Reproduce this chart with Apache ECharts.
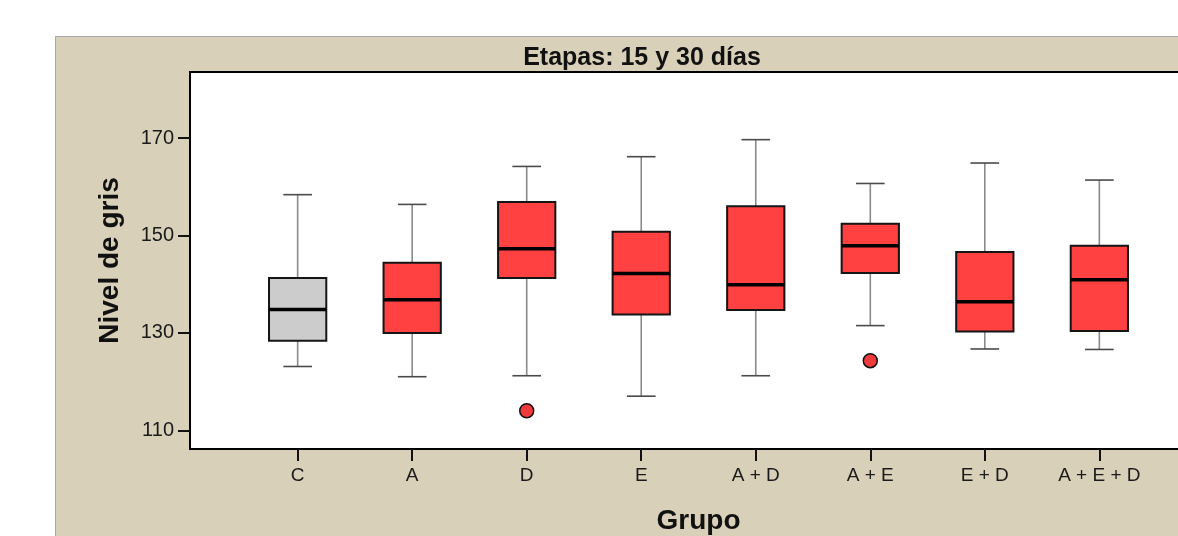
<!DOCTYPE html>
<html>
<head>
<meta charset="utf-8">
<script src="https://cdn.jsdelivr.net/npm/echarts@6/dist/echarts.min.js"></script>
<style>
  html, body { margin: 0; padding: 0; background: #ffffff; }
  #panel { position: absolute; left: 55px; top: 36px; width: 1200px; height: 600px;
           background: #d9d0b9; border-left: 1px solid #a9a9a9; border-top: 1px solid #a9a9a9; }
  #chart { position: absolute; left: 0; top: 0; width: 1178px; height: 536px; }
</style>
</head>
<body>
<div id="panel"></div>
<div id="chart"></div>
<script>
// ---- data ----
const categories = ['C', 'A', 'D', 'E', 'A + D', 'A + E', 'E + D', 'A + E + D'];
const whiskerLow  = [123.1, 121.0, 121.2, 117.0, 121.2, 131.5, 126.7, 126.6];
const quartile1   = [128.4, 130.0, 141.3, 133.8, 134.7, 142.3, 130.3, 130.4];
const medians     = [134.8, 136.8, 147.3, 142.2, 139.9, 147.9, 136.4, 140.9];
const quartile3   = [141.3, 144.4, 156.9, 150.8, 156.0, 152.4, 146.6, 147.9];
const whiskerHigh = [158.4, 156.4, 164.2, 166.2, 169.7, 160.7, 164.9, 161.4];
const outlierGroups = ['D', 'A + E'];
const outlierValues = [114.0, 124.3];
const yTickValues = [110, 130, 150, 170];
const controlGroup = 'C';

// ---- build series data from the arrays ----
const boxData = categories.map((c, i) => [i, whiskerLow[i], quartile1[i], medians[i], quartile3[i], whiskerHigh[i]]);
const outlierData = outlierGroups.map((g, k) => [categories.indexOf(g), outlierValues[k]]);

const FONT = "'Liberation Sans', Arial, Helvetica, sans-serif";

const chart = echarts.init(document.getElementById('chart'), null, { renderer: 'canvas' });

function renderBox(params, api) {
  const x = api.value(0);
  const pMin = api.coord([x, api.value(1)]);
  const pQ1 = api.coord([x, api.value(2)]);
  const pMed = api.coord([x, api.value(3)]);
  const pQ3 = api.coord([x, api.value(4)]);
  const pMax = api.coord([x, api.value(5)]);
  const bw = api.size([0.5, 0])[0];
  const cw = bw / 2;
  const cx = pMed[0];
  const isControl = categories[params.dataIndex] === controlGroup;
  const fill = isControl ? '#cccccc' : '#ff4141';
  const whisk = { stroke: '#8a8a8a', lineWidth: 1.6 };
  const cap = { stroke: '#4a4a4a', lineWidth: 1.6 };
  return {
    type: 'group',
    children: [
      { type: 'line', shape: { x1: cx, y1: pQ3[1], x2: cx, y2: pMax[1] }, style: whisk },
      { type: 'line', shape: { x1: cx, y1: pQ1[1], x2: cx, y2: pMin[1] }, style: whisk },
      { type: 'line', shape: { x1: cx - cw / 2, y1: pMax[1], x2: cx + cw / 2, y2: pMax[1] }, style: cap },
      { type: 'line', shape: { x1: cx - cw / 2, y1: pMin[1], x2: cx + cw / 2, y2: pMin[1] }, style: cap },
      { type: 'rect', shape: { x: cx - bw / 2, y: pQ3[1], width: bw, height: pQ1[1] - pQ3[1] },
        style: { fill: fill, stroke: '#151515', lineWidth: 2 } },
      { type: 'line', shape: { x1: cx - bw / 2, y1: pMed[1], x2: cx + bw / 2, y2: pMed[1] },
        style: { stroke: '#000000', lineWidth: 3.5 } }
    ]
  };
}

const option = {
  animation: false,
  backgroundColor: 'transparent',
  graphic: [
    { type: 'text', x: 642, y: 58, z: 10,
      style: { text: 'Etapas: 15 y 30 días', font: "bold 25px " + FONT, fill: '#111',
               textAlign: 'center', textVerticalAlign: 'middle' } }
  ],
  grid: {
    left: 190, top: 72, width: 1017, height: 377,
    outerBoundsMode: 'none', containLabel: false,
    show: true, backgroundColor: '#ffffff', borderColor: '#000000', borderWidth: 2
  },
  xAxis: {
    type: 'value', min: -0.94, max: 7.94,
    axisLine: { show: false, onZero: false },
    splitLine: { show: false },
    axisTick: { show: true, length: 12, customValues: categories.map((c, i) => i),
                lineStyle: { color: '#111', width: 2 } },
    axisLabel: { show: true, customValues: categories.map((c, i) => i), margin: 17,
                 formatter: v => categories[Math.round(v)] || '',
                 fontFamily: FONT, fontSize: 19, color: '#1a1a1a' },
    name: 'Grupo', nameLocation: 'middle', nameGap: 58,
    nameTextStyle: { fontFamily: FONT, fontSize: 28, fontWeight: 'bold', color: '#111' }
  },
  yAxis: {
    type: 'value', min: 106.15, max: 183.6,
    axisLine: { show: false, onZero: false },
    splitLine: { show: false },
    axisTick: { show: true, length: 12, customValues: yTickValues,
                lineStyle: { color: '#111', width: 2 } },
    axisLabel: { show: true, customValues: yTickValues, margin: 16,
                 fontFamily: FONT, fontSize: 20, color: '#1a1a1a' },
    name: 'Nivel de gris', nameLocation: 'middle', nameGap: 66,
    nameTextStyle: { fontFamily: FONT, fontSize: 28, fontWeight: 'bold', color: '#111' }
  },
  series: [
    { type: 'custom', renderItem: renderBox, data: boxData, clip: true,
      encode: { x: 0, y: [1, 2, 3, 4, 5] } },
    { type: 'scatter', data: outlierData, symbol: 'circle', symbolSize: 14, z: 5,
      itemStyle: { color: '#ee3a3a', borderColor: '#111', borderWidth: 1.5, opacity: 1 } }
  ]
};

chart.setOption(option);
</script>
</body>
</html>
